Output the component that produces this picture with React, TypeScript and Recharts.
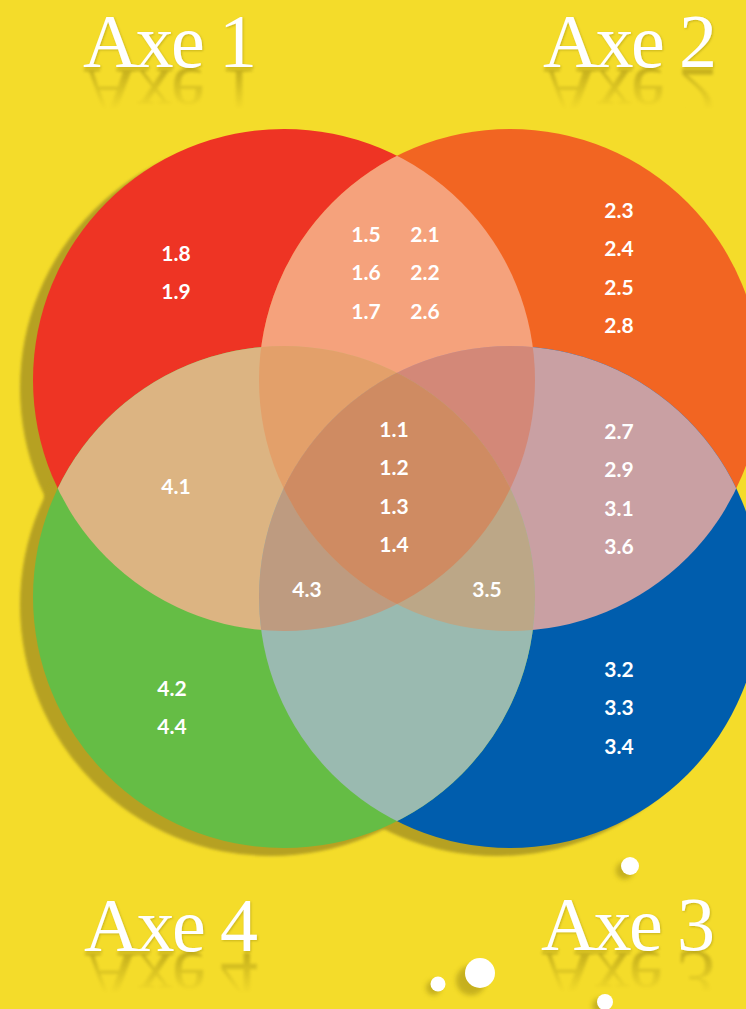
import React from 'react';
import { ScatterChart, Scatter, XAxis, YAxis } from 'recharts';

const W = 746;
const H = 1009;
const RADIUS = 251;
const LINE_STEP = 38.5;

// the four sets (circle centres in chart units, 1 unit = 1 px)
const circles = [
  { id: 'R', name: 'Axe 1', x: 284, y: 380 },
  { id: 'O', name: 'Axe 2', x: 510, y: 380 },
  { id: 'B', name: 'Axe 3', x: 510, y: 597 },
  { id: 'G', name: 'Axe 4', x: 284, y: 597 },
];

// regions: intersections of sets, drawn from single to quadruple
const regionSets = [
  ['R'], ['O'], ['B'], ['G'],
  ['R', 'O'], ['R', 'G'], ['O', 'B'], ['G', 'B'],
  ['R', 'O', 'G'], ['R', 'O', 'B'], ['R', 'G', 'B'], ['O', 'B', 'G'],
  ['R', 'O', 'B', 'G'],
];
const regionColors = [
  '#EE3424', '#F26522', '#005DAD', '#65BD45',
  '#F5A27C', '#DCB482', '#C9A0A3', '#9ABAB0',
  '#E3A06A', '#D38878', '#BE9B80', '#BCA787',
  '#CF8B62',
];

// item labels per region
const labelGroups = [
  { x: 176, y: 252, items: ['1.8', '1.9'] },
  { x: 366, y: 233, items: ['1.5', '1.6', '1.7'] },
  { x: 425, y: 233, items: ['2.1', '2.2', '2.6'] },
  { x: 619, y: 209, items: ['2.3', '2.4', '2.5', '2.8'] },
  { x: 619, y: 430, items: ['2.7', '2.9', '3.1', '3.6'] },
  { x: 394, y: 428, items: ['1.1', '1.2', '1.3', '1.4'] },
  { x: 176, y: 485, items: ['4.1'] },
  { x: 307, y: 588, items: ['4.3'] },
  { x: 487, y: 588, items: ['3.5'] },
  { x: 172, y: 687, items: ['4.2', '4.4'] },
  { x: 619, y: 668, items: ['3.2', '3.3', '3.4'] },
];

// set titles
const titles = [
  { name: 'Axe 1', x: 170, y: 67 },
  { name: 'Axe 2', x: 630, y: 67 },
  { name: 'Axe 3', x: 628, y: 950 },
  { name: 'Axe 4', x: 171, y: 951 },
];

// decorative bubbles
const bubbles = [
  { x: 630, y: 866, z: 9 },
  { x: 480, y: 973, z: 15 },
  { x: 438, y: 984, z: 7.5 },
  { x: 605, y: 1002, z: 8 },
];

const circleById: Record<string, { x: number; y: number }> = {};
circles.forEach((c) => (circleById[c.id] = c));

const regionData = regionSets.map((sets, i) => {
  const last = circleById[sets[sets.length - 1]];
  return { x: last.x, y: last.y, sets, color: regionColors[i], key: sets.join('') };
});

const ShadowShape = (props: any) => {
  const { cx, cy, index } = props;
  return (
    <g>
      {index === 0 && (
        <defs>
          <filter id="softShadow" x="-20%" y="-20%" width="140%" height="140%">
            <feGaussianBlur stdDeviation="1.5" />
          </filter>
          <filter id="bubbleShadow" x="-100%" y="-100%" width="300%" height="300%">
            <feGaussianBlur stdDeviation="2.5" />
          </filter>
          <filter id="titleShadow" x="-10%" y="-20%" width="120%" height="140%">
            <feDropShadow dx="1" dy="1" stdDeviation="1" floodColor="#7A6A00" floodOpacity="0.35" />
          </filter>
        </defs>
      )}
      <circle cx={cx - 13} cy={cy + 8} r={RADIUS} fill="#B6A121" filter="url(#softShadow)" />
    </g>
  );
};

const RegionShape = (props: any) => {
  const { cx, cy, payload } = props;
  const sets: string[] = payload.sets;
  const last = sets[sets.length - 1];
  let content: React.ReactNode = (
    <circle cx={cx} cy={cy} r={RADIUS} fill={payload.color} />
  );
  for (let i = sets.length - 2; i >= 0; i--) {
    content = <g clipPath={`url(#clip-${sets[i]})`}>{content}</g>;
  }
  return (
    <g>
      {sets.length === 1 && (
        <defs>
          <clipPath id={`clip-${last}`}>
            <circle cx={cx} cy={cy} r={RADIUS} />
          </clipPath>
        </defs>
      )}
      {content}
    </g>
  );
};

const LabelShape = (props: any) => {
  const { cx, cy, payload } = props;
  return (
    <g>
      {payload.items.map((t: string, i: number) => (
        <text
          key={t}
          x={cx}
          y={cy + i * LINE_STEP}
          textAnchor="middle"
          dominantBaseline="central"
          fontFamily="Lato, 'Open Sans', sans-serif"
          fontWeight={700}
          fontSize={21}
          fill="#FFFFFF"
        >
          {t}
        </text>
      ))}
    </g>
  );
};

const TitleShape = (props: any) => {
  const { cx, cy, payload, index } = props;
  const gid = `refGrad${index}`;
  const mid = `refMask${index}`;
  const common = {
    x: cx,
    y: cy,
    textAnchor: 'middle' as const,
    fontFamily: "'Liberation Serif', 'DejaVu Serif', serif",
    fontSize: 76,
    textLength: 174,
    lengthAdjust: 'spacing' as const,
  };
  return (
    <g>
      <defs>
        <linearGradient id={gid} x1="0" y1={cy} x2="0" y2={cy + 42} gradientUnits="userSpaceOnUse">
          <stop offset="0" stopColor="#fff" stopOpacity={1} />
          <stop offset="1" stopColor="#fff" stopOpacity={0} />
        </linearGradient>
        <mask id={mid} maskUnits="userSpaceOnUse" x={cx - 150} y={cy} width={300} height={60}>
          <rect x={cx - 150} y={cy} width={300} height={60} fill={`url(#${gid})`} />
        </mask>
      </defs>
      <g mask={`url(#${mid})`}>
        <g transform={`translate(0 ${2 * cy + 2}) scale(1 -1)`}>
          <text {...common} fill="#5E5000" opacity={0.33} filter="url(#softShadow)">
            {payload.name}
          </text>
        </g>
      </g>
      <text {...common} fill="#FFFFFF" filter="url(#titleShadow)">
        {payload.name}
      </text>
    </g>
  );
};

const BubbleShape = (props: any) => {
  const { cx, cy, payload } = props;
  const r = payload.z;
  return (
    <g>
      <circle cx={cx - r * 0.6} cy={cy + r * 0.5} r={r} fill="#A89418" opacity={0.6} filter="url(#bubbleShadow)" />
      <circle cx={cx} cy={cy} r={r} fill="#FFFFFF" />
    </g>
  );
};

export default function App() {
  return (
    <div style={{ position: 'absolute', left: 0, top: 0, width: W, height: H, background: '#F4DC2A', overflow: 'hidden' }}>
      <ScatterChart width={W} height={H} margin={{ top: 0, right: 0, bottom: 0, left: 0 }}>
        <XAxis type="number" dataKey="x" domain={[0, W]} hide allowDataOverflow />
        <YAxis type="number" dataKey="y" domain={[0, H]} reversed hide allowDataOverflow />
        <Scatter data={circles} shape={ShadowShape} isAnimationActive={false} legendType="none" />
        <Scatter data={regionData} shape={RegionShape} isAnimationActive={false} legendType="none" />
        <Scatter data={labelGroups} shape={LabelShape} isAnimationActive={false} legendType="none" />
        <Scatter data={titles} shape={TitleShape} isAnimationActive={false} legendType="none" />
        <Scatter data={bubbles} shape={BubbleShape} isAnimationActive={false} legendType="none" />
      </ScatterChart>
    </div>
  );
}
